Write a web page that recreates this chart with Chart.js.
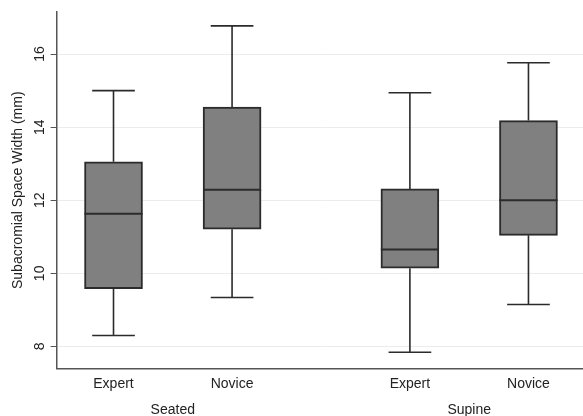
<!DOCTYPE html>
<html>
<head>
<meta charset="utf-8">
<script src="https://cdn.jsdelivr.net/npm/chart.js@4.4.0/dist/chart.umd.min.js"></script>
<style>
  html, body { margin: 0; padding: 0; background: #fff; }
  #wrap { width: 583px; height: 416px; }
</style>
</head>
<body>
<div id="wrap"><canvas id="boxChart"></canvas></div>
<script>
// ---- data ----
const groups = ["Seated", "Supine"];
const categories = ["Expert", "Novice", "Expert", "Novice"];
const whiskerLow  = [8.30, 9.34, 7.84, 9.15];
const q1Values    = [9.58, 11.21, 10.14, 11.04];
const medians     = [11.63, 12.29, 10.65, 12.00];
const q3Values    = [13.05, 14.55, 12.31, 14.18];
const whiskerHigh = [15.00, 16.77, 14.94, 15.76];
const yTicks = [8, 10, 12, 14, 16];

// place boxes: two per group, wider gap between groups
const xPos = categories.map((c, i) => Math.floor(i / 2) * 2.5 + (i % 2) + 1);
const groupPos = groups.map((g, gi) => gi * 2.5 + 1.5);

const LINE = "#2b2b2b";
const CAP_HALF = 0.18;

// whiskers, caps and medians, drawn through chart scales
const boxExtras = {
    id: "boxExtras",
    afterDatasetsDraw(chart) {
        const { ctx, scales } = chart;
        const xs = scales.x, ys = scales.y;
        ctx.save();
        ctx.strokeStyle = LINE;
        xPos.forEach((x, i) => {
            const px = xs.getPixelForValue(x);
            const capL = xs.getPixelForValue(x - CAP_HALF);
            const capR = xs.getPixelForValue(x + CAP_HALF);
            ctx.lineWidth = 1.6;
            ctx.beginPath();
            // upper whisker
            ctx.moveTo(px, ys.getPixelForValue(q3Values[i]));
            ctx.lineTo(px, ys.getPixelForValue(whiskerHigh[i]));
            ctx.moveTo(capL, ys.getPixelForValue(whiskerHigh[i]));
            ctx.lineTo(capR, ys.getPixelForValue(whiskerHigh[i]));
            // lower whisker
            ctx.moveTo(px, ys.getPixelForValue(q1Values[i]));
            ctx.lineTo(px, ys.getPixelForValue(whiskerLow[i]));
            ctx.moveTo(capL, ys.getPixelForValue(whiskerLow[i]));
            ctx.lineTo(capR, ys.getPixelForValue(whiskerLow[i]));
            ctx.stroke();
            // median
            const boxL = xs.getPixelForValue(x - 0.245);
            const boxR = xs.getPixelForValue(x + 0.245);
            ctx.lineWidth = 2;
            ctx.beginPath();
            ctx.moveTo(boxL, ys.getPixelForValue(medians[i]));
            ctx.lineTo(boxR, ys.getPixelForValue(medians[i]));
            ctx.stroke();
        });
        ctx.restore();
    }
};

Chart.defaults.font.family = "'Liberation Sans', Arial, sans-serif";
Chart.defaults.color = "#222";

const ctx = document.getElementById("boxChart").getContext("2d");
new Chart(ctx, {
    type: "bar",
    data: {
        datasets: [{
            data: xPos.map((x, i) => ({ x: x, y: [q1Values[i], q3Values[i]] })),
            backgroundColor: "#808080",
            borderColor: LINE,
            borderWidth: 2,
            borderSkipped: false,
            barThickness: 58,
        }]
    },
    options: {
        responsive: true,
        maintainAspectRatio: false,
        animation: false,
        layout: { padding: { left: 10, top: 12, right: 0, bottom: -6 } },
        plugins: {
            legend: { display: false },
            tooltip: { enabled: false },
        },
        scales: {
            x: {
                type: "linear",
                offset: false,
                min: 0.52,
                max: 4.96,
                afterBuildTicks: (s) => { s.ticks = xPos.map(v => ({ value: v })); },
                ticks: {
                    callback: (v) => categories[xPos.indexOf(v)],
                    font: { size: 14 },
                    color: "#222",
                    padding: 7,
                    maxRotation: 0,
                    autoSkip: false,
                },
                grid: { display: false, drawTicks: false },
                border: { display: true, color: "#555", width: 1.5 },
            },
            x2: {
                type: "linear",
                position: "bottom",
                offset: false,
                min: 0.52,
                max: 4.96,
                afterBuildTicks: (s) => { s.ticks = groupPos.map(v => ({ value: v })); },
                ticks: {
                    callback: (v) => groups[groupPos.indexOf(v)],
                    font: { size: 14 },
                    color: "#222",
                    padding: 3,
                    maxRotation: 0,
                    autoSkip: false,
                },
                grid: { display: false, drawTicks: false },
                border: { display: false },
            },
            y: {
                min: 7.4,
                max: 17.15,
                afterBuildTicks: (s) => { s.ticks = yTicks.map(v => ({ value: v })); },
                ticks: {
                    font: { size: 14 },
                    color: "#222",
                    minRotation: 90,
                    maxRotation: 90,
                    crossAlign: "center",
                    padding: 3,
                },
                grid: { color: "#ececec", lineWidth: 1, tickColor: "#555", tickLength: 6 },
                border: { display: true, color: "#555", width: 1.5 },
                title: {
                    display: true,
                    text: "Subacromial Space Width (mm)",
                    font: { size: 14 },
                    color: "#222",
                    padding: { top: 0, bottom: 1 },
                },
            },
        },
    },
    plugins: [boxExtras],
});
</script>
</body>
</html>
